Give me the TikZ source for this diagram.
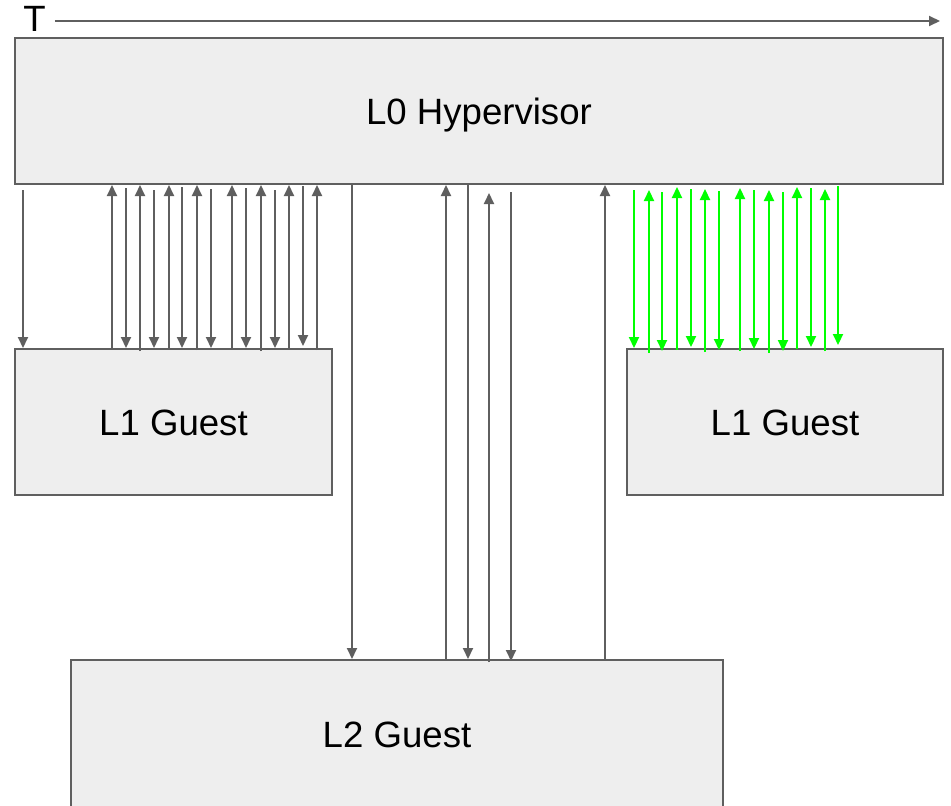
\documentclass[tikz,border=0pt]{standalone}
\usepackage{fontspec}
\setmainfont{Liberation Sans}
\usetikzlibrary{arrows.meta}
\definecolor{linegrey}{HTML}{5F5F5F}
\definecolor{boxfill}{HTML}{EEEEEE}
\definecolor{brightgreen}{HTML}{00FF00}
\tikzset{
  layerbox/.style={draw=linegrey, fill=boxfill, line width=2pt, inner sep=0pt,
    text height=26pt, text depth=0pt, font=\fontsize{36.6}{40}\selectfont},
  greyarrow/.style={draw=linegrey, line width=2pt,
    -{Triangle[length=11pt,width=10pt]}},
  greenarrow/.style={draw=brightgreen, line width=2.2pt,
    -{Triangle[length=11pt,width=10pt]}},
}
\begin{document}
\begin{tikzpicture}[x=1pt,y=-1pt]
\useasboundingbox (0,0) rectangle (951,806);

% layers
\node[layerbox, minimum width=928pt, minimum height=146pt] (L0) at (479,111) {L0 Hypervisor};
\node[layerbox, minimum width=317pt, minimum height=146pt] (L1a) at (173.5,422) {L1 Guest};
\node[layerbox, minimum width=316pt, minimum height=146pt] (L1b) at (785,422) {L1 Guest};
\node[layerbox, minimum width=652pt, minimum height=149pt] (L2) at (397,734.5) {L2 Guest};

% time axis
\node[anchor=base, font=\fontsize{36.6}{40}\selectfont, inner sep=0pt] (T) at (34.5,31) {T};
\coordinate (tend) at (940,21);
\draw[greyarrow] (T.east |- tend) ++(9,0) -- (tend);

% exits and entries between L0 and the left L1 guest
\foreach \x/\t/\b in {23/-5/0,126/-3/0,154/-5/0,182/-2/0,211/-4/0,246/-3/0,275/-5/0,303/-1/2}
  \draw[greyarrow] ([yshift=\t pt]L0.south -| \x,0) -- ([yshift=\b pt]L1a.north -| \x,0);
\foreach \x/\b in {112/-1,140/-3,169/0,197/-2,232/-1,261/-3,289/0,317/-2}
  \draw[greyarrow] ([yshift=\b pt]L1a.north -| \x,0) -- (L0.south -| \x,0);

% nested transitions between L0 and L2
\foreach \x/\t/\b in {352/0/0,468/0/0,511/-7/-2}
  \draw[greyarrow] ([yshift=\t pt]L0.south -| \x,0) -- ([yshift=\b pt]L2.north -| \x,0);
\foreach \x/\t/\b in {446/0/0,489/-8/-3,605/0/0}
  \draw[greyarrow] ([yshift=\b pt]L2.north -| \x,0) -- ([yshift=\t pt]L0.south -| \x,0);

% exits and entries between L0 and the right L1 guest
\foreach \x/\t/\b in {634/-5/0,662/-7/-3,691/-4/1,719/-6/-2,754/-5/-1,783/-7/-3,811/-3/1,838/-1/3}
  \draw[greenarrow] ([yshift=\t pt]L0.south -| \x,0) -- ([yshift=\b pt]L1b.north -| \x,0);
\foreach \x/\t/\b in {649/-5/-5,677/-2/-2,705/-4/-4,740/-3/-3,769/-5/-5,797/-2/-1,825/-4/-3}
  \draw[greenarrow] ([yshift=\b pt]L1b.north -| \x,0) -- ([yshift=\t pt]L0.south -| \x,0);
\end{tikzpicture}
\end{document}
